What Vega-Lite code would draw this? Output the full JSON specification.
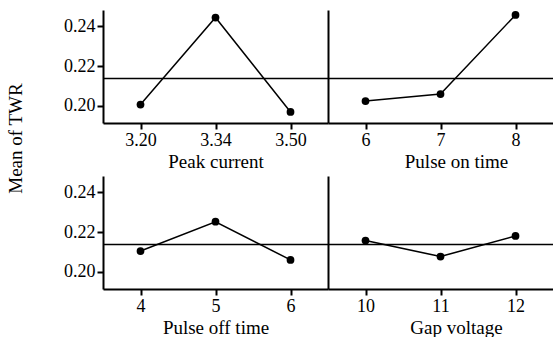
{
  "$schema": "https://vega.github.io/schema/vega-lite/v6.json",
  "background": "white",
  "padding": {"left": 5, "top": 10, "right": 0, "bottom": 0},
  "config": {
    "view": {"stroke": null},
    "font": "Liberation Serif",
    "axis": {
      "labelFont": "Liberation Serif", "labelFontSize": 18, "labelColor": "black",
      "titleFont": "Liberation Serif", "titleFontSize": 19, "titleFontWeight": "normal", "titleColor": "black",
      "domainColor": "black", "domainWidth": 2, "tickColor": "black", "tickWidth": 2, "tickSize": 6,
      "grid": false, "labelPadding": 2, "titlePadding": 3
    }
  },
  "datasets": {
    "effects": [
      {"factor": "Peak current", "level": "3.20", "TWR": 0.2005},
      {"factor": "Peak current", "level": "3.34", "TWR": 0.2445},
      {"factor": "Peak current", "level": "3.50", "TWR": 0.1968},
      {"factor": "Pulse on time", "level": "6", "TWR": 0.2023},
      {"factor": "Pulse on time", "level": "7", "TWR": 0.2058},
      {"factor": "Pulse on time", "level": "8", "TWR": 0.2458},
      {"factor": "Pulse off time", "level": "4", "TWR": 0.2104},
      {"factor": "Pulse off time", "level": "5", "TWR": 0.2252},
      {"factor": "Pulse off time", "level": "6", "TWR": 0.2059},
      {"factor": "Gap voltage", "level": "10", "TWR": 0.2157},
      {"factor": "Gap voltage", "level": "11", "TWR": 0.2076},
      {"factor": "Gap voltage", "level": "12", "TWR": 0.2180}
    ],
    "grand": [{"TWR": 0.2137}]
  },
  "columns": 2,
  "bounds": "flush",
  "spacing": {"row": 53, "column": 0},
  "concat": [
    {
      "width": 225, "height": 113,
      "encoding": {"y": {"field": "TWR", "type": "quantitative", "scale": {"domain": [0.1912, 0.2483], "nice": false, "zero": false},
        "axis": {"values": [0.20, 0.22, 0.24], "format": ".2f", "title": "Mean of TWR", "titleX": -88, "titleY": 128, "titleAngle": -90, "titleAlign": "center", "titleBaseline": "middle"}}},
      "layer": [
        {"data": {"name": "grand"}, "mark": {"type": "rule", "color": "black", "strokeWidth": 1.5}},
        {
          "data": {"name": "effects"},
          "transform": [{"filter": "datum.factor === 'Peak current'"}],
          "encoding": {"x": {"field": "level", "type": "ordinal", "scale": {"type": "point", "padding": 0.5}, "axis": {"labelAngle": 0, "title": "Peak current"}}},
          "layer": [
            {"mark": {"type": "line", "color": "black", "strokeWidth": 1.5}},
            {"mark": {"type": "point", "filled": true, "color": "black", "opacity": 1, "size": 60}}
          ]
        }
      ]
    },
    {
      "width": 225, "height": 113,
      "encoding": {"y": {"field": "TWR", "type": "quantitative", "scale": {"domain": [0.1912, 0.2483], "nice": false, "zero": false},
        "axis": {"labels": false, "ticks": false, "title": null}}},
      "layer": [
        {"data": {"name": "grand"}, "mark": {"type": "rule", "color": "black", "strokeWidth": 1.5}},
        {
          "data": {"name": "effects"},
          "transform": [{"filter": "datum.factor === 'Pulse on time'"}],
          "encoding": {"x": {"field": "level", "type": "ordinal", "scale": {"type": "point", "padding": 0.5}, "axis": {"labelAngle": 0, "title": "Pulse on time", "titleX": 128}}},
          "layer": [
            {"mark": {"type": "line", "color": "black", "strokeWidth": 1.5}},
            {"mark": {"type": "point", "filled": true, "color": "black", "opacity": 1, "size": 60}}
          ]
        }
      ]
    },
    {
      "width": 225, "height": 113,
      "encoding": {"y": {"field": "TWR", "type": "quantitative", "scale": {"domain": [0.1912, 0.2483], "nice": false, "zero": false},
        "axis": {"values": [0.20, 0.22, 0.24], "format": ".2f", "title": null}}},
      "layer": [
        {"data": {"name": "grand"}, "mark": {"type": "rule", "color": "black", "strokeWidth": 1.5}},
        {
          "data": {"name": "effects"},
          "transform": [{"filter": "datum.factor === 'Pulse off time'"}],
          "encoding": {"x": {"field": "level", "type": "ordinal", "scale": {"type": "point", "padding": 0.5}, "axis": {"labelAngle": 0, "title": "Pulse off time"}}},
          "layer": [
            {"mark": {"type": "line", "color": "black", "strokeWidth": 1.5}},
            {"mark": {"type": "point", "filled": true, "color": "black", "opacity": 1, "size": 60}}
          ]
        }
      ]
    },
    {
      "width": 225, "height": 113,
      "encoding": {"y": {"field": "TWR", "type": "quantitative", "scale": {"domain": [0.1912, 0.2483], "nice": false, "zero": false},
        "axis": {"labels": false, "ticks": false, "title": null}}},
      "layer": [
        {"data": {"name": "grand"}, "mark": {"type": "rule", "color": "black", "strokeWidth": 1.5}},
        {
          "data": {"name": "effects"},
          "transform": [{"filter": "datum.factor === 'Gap voltage'"}],
          "encoding": {"x": {"field": "level", "type": "ordinal", "scale": {"type": "point", "padding": 0.5}, "axis": {"labelAngle": 0, "title": "Gap voltage", "titleX": 128}}},
          "layer": [
            {"mark": {"type": "line", "color": "black", "strokeWidth": 1.5}},
            {"mark": {"type": "point", "filled": true, "color": "black", "opacity": 1, "size": 60}}
          ]
        }
      ]
    }
  ]
}
